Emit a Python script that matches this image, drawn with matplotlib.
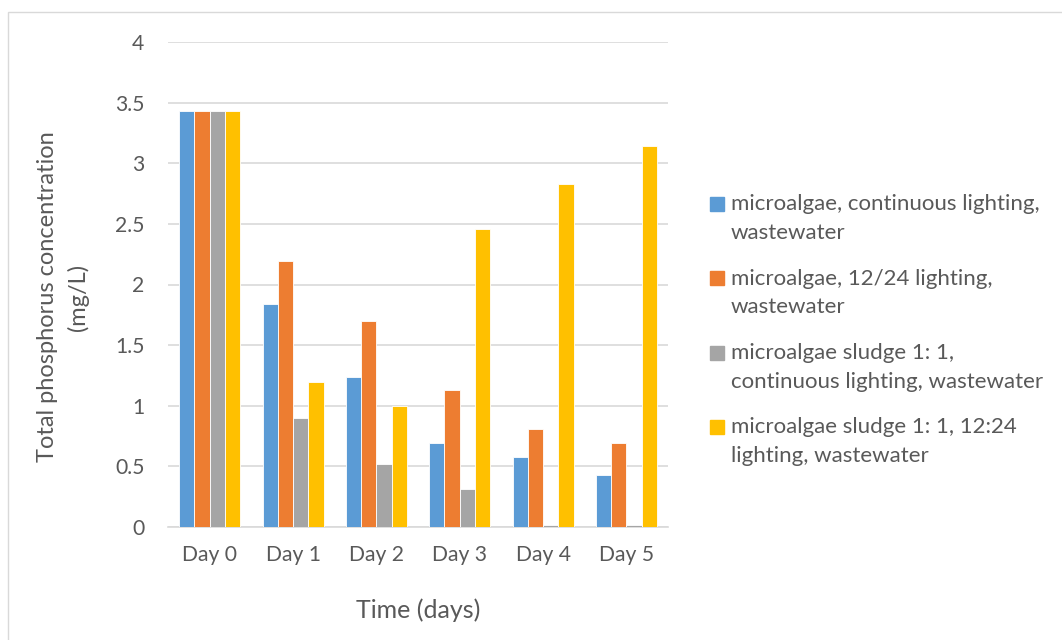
import numpy as np
import matplotlib.pyplot as plt
from matplotlib.patches import Rectangle

plt.rcParams['font.family'] = ['Lato', 'DejaVu Sans']

# Total phosphorus concentration (mg/L) by day for each treatment
days = ['Day 0', 'Day 1', 'Day 2', 'Day 3', 'Day 4', 'Day 5']
algae_continuous = [3.43, 1.84, 1.24, 0.69, 0.58, 0.43]
algae_12_24 = [3.43, 2.19, 1.70, 1.13, 0.81, 0.69]
sludge_continuous = [3.43, 0.90, 0.52, 0.31, 0.02, 0.015]
sludge_12_24 = [3.43, 1.20, 1.00, 2.46, 2.83, 3.14]

series = [algae_continuous, algae_12_24, sludge_continuous, sludge_12_24]
labels = ['microalgae, continuous lighting,\nwastewater',
          'microalgae, 12/24 lighting,\nwastewater',
          'microalgae sludge 1: 1,\ncontinuous lighting, wastewater',
          'microalgae sludge 1: 1, 12:24\nlighting, wastewater']
colors = ['#5B9BD5', '#ED7D31', '#A5A5A5', '#FFC000']
text_color = '#595959'

W, H = 1062, 640
fig = plt.figure(figsize=(W / 100, H / 100), dpi=100)
ax = fig.add_axes([168 / W, 1 - 527 / H, 500 / W, 485 / H])

x = np.arange(len(days))
width = 0.183
for i, (vals, c) in enumerate(zip(series, colors)):
    ax.bar(x + (i - 1.5) * width, vals, width, color=c,
           edgecolor='white', linewidth=0.6, zorder=3)

ax.set_xlim(-0.5, len(days) - 0.5)
ax.set_ylim(0, 4)
ax.set_yticks(np.arange(0, 4.01, 0.5))
ax.set_yticklabels(['0', '0.5', '1', '1.5', '2', '2.5', '3', '3.5', '4'])
ax.set_xticks(x)
ax.set_xticklabels(days)
ax.grid(axis='y', color='#D9D9D9', linewidth=1.2, zorder=0)
for s in ['top', 'right', 'left']:
    ax.spines[s].set_visible(False)
ax.spines['bottom'].set_color('#D9D9D9')
ax.spines['bottom'].set_linewidth(1.2)
ax.tick_params(axis='both', length=0, labelsize=15.2, colors=text_color)
ax.tick_params(axis='y', pad=17)
ax.tick_params(axis='x', pad=13)

ax.set_xlabel('Time (days)', fontsize=18, color=text_color, va='center')
ax.xaxis.set_label_coords(0.5, (640 - 610 - 113) / 485)
ax.set_ylabel('Total phosphorus concentration\n(mg/L)', fontsize=17,
              color=text_color, linespacing=1.45, va='center')
ax.yaxis.set_label_coords((63 - 168) / 500, (640 - 297 - 113) / 485)

# legend drawn by hand so the swatch sits on the first text line
line_gap = 28
for i, (lab, c) in enumerate(zip(labels, colors)):
    base = 211 + i * 74.3
    fig.add_artist(Rectangle((710 / W, 1 - base / H), 14 / W, 14 / H,
                             transform=fig.transFigure, color=c))
    fig.text(731 / W, 1 - (base + line_gap) / H, lab, fontsize=16,
             color=text_color, va='baseline', ha='left', linespacing=1.54)

# chart frame
fig.add_artist(Rectangle((8 / W, -0.1), 1.2, 1 - 12 / H + 0.1,
                         transform=fig.transFigure, fill=False,
                         edgecolor='#D9D9D9', linewidth=1))

fig.savefig('out.png', dpi=100)
